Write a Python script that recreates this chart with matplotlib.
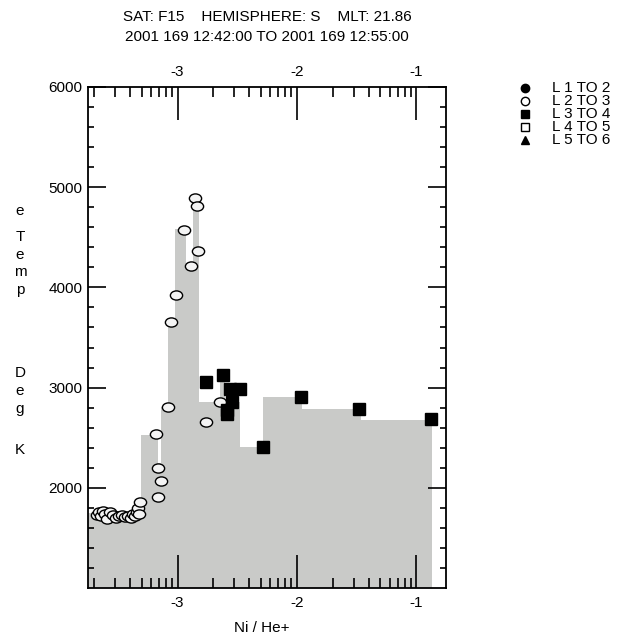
import numpy as np
import matplotlib
matplotlib.use('Agg')
import matplotlib.pyplot as plt
from matplotlib.path import Path
from matplotlib.ticker import FixedLocator, NullFormatter

plt.rcParams['font.family'] = ['Liberation Sans', 'DejaVu Sans']
plt.rcParams['axes.unicode_minus'] = False

# step background (log Ni/He+ bin edges, temperature)
bin_edges = [-3.75, -3.306, -3.164, -3.138, -3.080, -3.021, -2.929, -2.870,
             -2.820, -2.644, -2.602, -2.476, -2.283, -1.956, -1.462, -0.867]
bin_temp = [1750, 2530, 2250, 2810, 3680, 4580, 4200, 4780,
            2860, 3100, 2860, 2410, 2910, 2790, 2680]

# L 2 TO 3 points (open circles)
l23_x = [-3.675, -3.658, -3.641, -3.624, -3.608, -3.591, -3.566, -3.541,
         -3.516, -3.490, -3.465, -3.440, -3.415, -3.390, -3.373, -3.356,
         -3.339, -3.331, -3.323, -3.314, -3.180, -3.163, -3.138, -3.163,
         -3.080, -3.054, -3.013, -2.944, -2.887, -2.853, -2.837, -2.828,
         -2.765, -2.644]
l23_t = [1730, 1760, 1720, 1770, 1740, 1690, 1760, 1730,
         1700, 1720, 1730, 1710, 1720, 1700, 1740, 1720,
         1760, 1800, 1740, 1860, 2540, 2200, 2070, 1910,
         2810, 3650, 3920, 4570, 4210, 4890, 4810, 4360,
         2660, 2860]

# L 3 TO 4 points (filled squares)
l34_x = [-2.761, -2.619, -2.560, -2.480, -2.543, -2.585, -2.585,
         -2.283, -1.965, -1.478, -0.875]
l34_t = [3060, 3130, 2990, 2990, 2860, 2780, 2740,
         2410, 2910, 2790, 2690]

legend_labels = ['L 1 TO 2', 'L 2 TO 3', 'L 3 TO 4', 'L 4 TO 5', 'L 5 TO 6']
ylabel_chars = ['e', 'T', 'e', 'm', 'p', 'D', 'e', 'g', 'K']
ylabel_rows = [211, 237, 255, 272, 290, 373, 391, 409, 450]

W, H = 624, 639
fig = plt.figure(figsize=(W / 100, H / 100), dpi=100)

def px(x, y):
    return x / W, 1 - y / H

ax = fig.add_axes([88 / W, 1 - 588 / H, 358 / W, 501 / H])

ax.stairs(bin_temp, bin_edges, baseline=1000, fill=True, color='#c9cac8', lw=0)

circ = Path.unit_circle()
ellipse = Path(circ.vertices * np.array([1.0, 0.75]), circ.codes)
ax.plot(l23_x, l23_t, ls='none', marker=ellipse, ms=8.8, mfc='#f4f4f4',
        mec='black', mew=1.0, zorder=3)
ax.plot(l34_x, l34_t, ls='none', marker='s', ms=8.0, mfc='black',
        mec='black', zorder=4)

ax.set_xlim(-3.75, -0.75)
ax.set_ylim(1000, 6000)

# log style minor ticks inside each decade
major_x = [-3, -2, -1]
minor_x = [d + np.log10(k) for d in (-4, -3, -2, -1) for k in range(2, 10)]
ax.xaxis.set_major_locator(FixedLocator(major_x))
ax.xaxis.set_minor_locator(FixedLocator(minor_x))
ax.set_xticklabels(['-3', '-2', '-1'])
ax.yaxis.set_major_locator(FixedLocator([2000, 3000, 4000, 5000, 6000]))
ax.yaxis.set_minor_locator(FixedLocator(np.arange(1200, 6000, 200)))
ax.yaxis.set_minor_formatter(NullFormatter())

ax.tick_params(axis='x', which='both', direction='in', top=True, bottom=True,
               labeltop=True, labelbottom=True, labelsize=11, width=1.2)
ax.tick_params(axis='x', which='major', length=24, pad=6)
ax.tick_params(axis='x', which='minor', length=7)
ax.tick_params(axis='y', which='both', direction='in', left=True, right=True,
               labelsize=11, width=1.2)
ax.tick_params(axis='y', which='major', length=13, pad=4)
ax.tick_params(axis='y', which='minor', length=4)
for sp in ax.spines.values():
    sp.set_linewidth(1.3)

fig.text(*px(267, 17), 'SAT: F15    HEMISPHERE: S    MLT: 21.86',
         ha='center', va='center', fontsize=11)
fig.text(*px(267, 37), '2001 169 12:42:00 TO 2001 169 12:55:00',
         ha='center', va='center', fontsize=11)
fig.text(*px(262, 628), 'Ni / He+', ha='center', va='center', fontsize=11)

for ch, yy in zip(ylabel_chars, ylabel_rows):
    fig.text(*px(20, yy), ch, ha='center', va='center', fontsize=11)

# legend, drawn by hand
leg_markers = [('o', 'black'), ('o', 'white'), ('s', 'black'),
               ('s', 'white'), ('^', 'black')]
for i, (lab, (mk, fc)) in enumerate(zip(legend_labels, leg_markers)):
    yy = 88 + 13 * i
    fig.add_artist(plt.Line2D([525 / W], [1 - yy / H], marker=mk, ms=6.0,
                              mfc=fc, mec='black', mew=1.0, ls='none',
                              transform=fig.transFigure))
    fig.text(*px(552, yy), lab, ha='left', va='center', fontsize=11)

fig.savefig('out.png', dpi=100)
